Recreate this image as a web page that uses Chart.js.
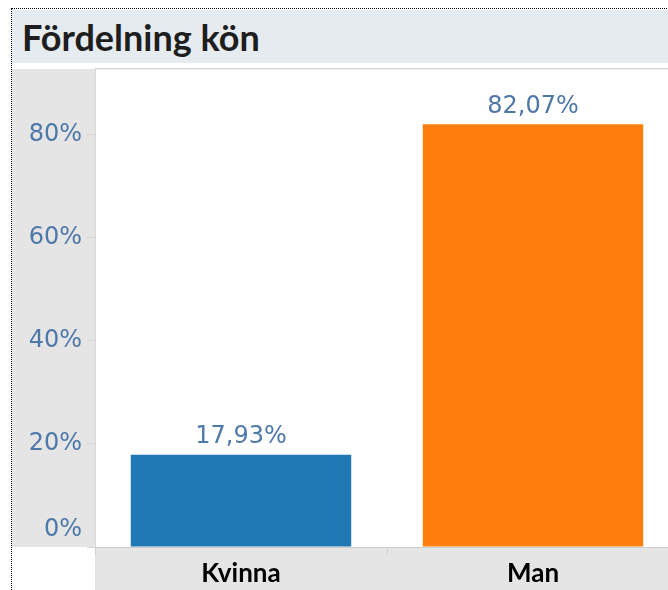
<!DOCTYPE html>
<html>
<head>
<meta charset="utf-8">
<script src="https://cdn.jsdelivr.net/npm/chart.js@4"></script>
<style>
  html, body { margin: 0; padding: 0; width: 668px; height: 590px; overflow: hidden; background: #fff; }
  #frame { position: absolute; left: 11px; top: 8px; width: 760px; height: 700px; border: 1px dotted #000; box-sizing: border-box; }
  #band { position: absolute; left: 12px; top: 10px; width: 760px; height: 53px; background: #e6ebf0; }
  #title { position: absolute; left: 22px; top: 10px; height: 53px; line-height: 53px; padding-top: 1px; box-sizing: border-box;
           font-family: Lato, "Open Sans", sans-serif; font-weight: 700; font-size: 36px; color: #1e1e1e; white-space: nowrap; }
  #wrap { position: absolute; left: 12px; top: 63px; width: 667px; height: 527px; }
</style>
</head>
<body>
<div id="frame"></div>
<div id="band"></div>
<div id="title">Fördelning kön</div>
<div id="wrap"><canvas id="c" width="667" height="527"></canvas></div>
<script>
const categories = ['Kvinna', 'Man'];
const shares = [17.93, 82.07];
const barColors = ['#1f77b4', '#ff7f0e'];
const yTicks = [0, 20, 40, 60, 80];
const yMax = 92.8;

const numFont = 'DejaVu Sans';
const blue = '#4e78a8';

const panels = {
  id: 'panels',
  beforeDraw(chart) {
    const {ctx, chartArea: a, width, height} = chart;
    ctx.save();
    ctx.fillStyle = '#e5e5e5';
    ctx.fillRect(0, a.top, a.left, a.bottom - a.top);
    ctx.fillRect(a.left, a.bottom, width - a.left, height - a.bottom);
    ctx.strokeStyle = '#d6d6d6';
    ctx.lineWidth = 1.5;
    ctx.beginPath();
    ctx.moveTo(a.left, a.top - 0.25);
    ctx.lineTo(width, a.top - 0.25);
    ctx.stroke();
    ctx.restore();
  },
  afterDatasetsDraw(chart) {
    const {ctx} = chart;
    const meta = chart.getDatasetMeta(0);
    ctx.save();
    ctx.fillStyle = blue;
    ctx.font = '24px "' + numFont + '"';
    ctx.textAlign = 'center';
    ctx.textBaseline = 'alphabetic';
    meta.data.forEach((bar, i) => {
      const txt = shares[i].toFixed(2).replace('.', ',') + '%';
      ctx.fillText(txt, bar.x, bar.y - 11.5);
    });
    ctx.restore();
  }
};

new Chart(document.getElementById('c'), {
  type: 'bar',
  data: {
    labels: categories,
    datasets: [{
      data: shares,
      backgroundColor: barColors,
      borderWidth: 0,
      categoryPercentage: 1,
      barPercentage: 0.755
    }]
  },
  options: {
    responsive: false,
    animation: false,
    devicePixelRatio: 1,
    layout: { padding: { top: 6, left: 0, right: 0, bottom: 0 } },
    plugins: { legend: { display: false }, tooltip: { enabled: false }, title: { display: false } },
    scales: {
      x: {
        offset: true,
        grid: { display: true, drawOnChartArea: false, drawTicks: true, tickLength: 8, color: '#d0d0d0', offset: true },
        border: { display: true, color: '#cdcdcd', dash: [2, 2] },
        ticks: { color: '#000', padding: 3, font: { family: 'Lato', weight: 'bold', size: 26 }, maxRotation: 0 },
        afterFit(s) { s.height = 43; }
      },
      y: {
        min: 0,
        max: yMax,
        afterBuildTicks(s) { s.ticks = yTicks.map(v => ({ value: v })); },
        grid: { display: true, drawOnChartArea: false, drawTicks: true, tickLength: 8, color: '#d6d6d6' },
        border: { display: true, color: '#d9d9d9' },
        ticks: {
          color: blue,
          padding: 5,
          font: (ctx) => ({ family: numFont, size: 24, lineHeight: (ctx.tick && ctx.tick.value === 0) ? '34px' : '2px' }),
          callback: (v) => v === 0 ? [v + '%', ''] : v + '%'
        },
        afterFit(s) { s.width = 83; }
      }
    }
  },
  plugins: [panels]
});
</script>
</body>
</html>
